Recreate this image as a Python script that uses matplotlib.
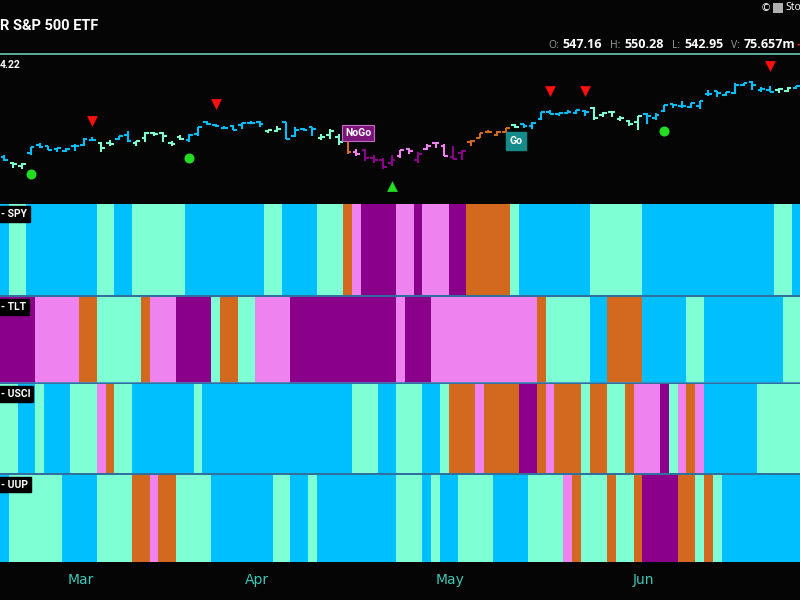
import matplotlib
matplotlib.use("Agg")
import matplotlib.pyplot as plt
import numpy as np
from matplotlib.patches import Rectangle

# trading days, index 0 = Feb 16 2024, last = Jun 27 2024
month_start = [9, 29, 51, 73]
month_labels = ["Mar", "Apr", "May", "Jun"]

spy_open = [
    501.7, 497.7, 495.4, 504.0, 509.3, 508.3, 506.7, 505.3, 508.1,
    508.9, 512.0, 510.2, 510.6, 513.1, 515.5, 510.5, 513.5, 516.7, 516.9, 510.2,
    514.0, 512.2, 515.8, 523.4, 522.1, 519.8, 521.2, 521.7, 523.2,
    523.8, 518.2, 517.7, 523.5, 514.5, 519.2, 520.5, 513.5, 515.7, 514.4, 515.1,
    504.9, 506.1, 501.0, 499.4, 497.8, 501.8, 506.6, 499.2, 506.4, 510.1, 508.6,
    501.4, 504.2, 511.2, 513.7, 517.6, 515.3, 517.4, 521.8, 522.6, 521.1, 525.8,
    529.9, 528.8, 529.6, 529.3, 530.7, 532.9, 527.9, 530.3, 525.7, 524.5, 523.6,
    529.0, 526.5, 530.8, 534.9, 533.7, 533.2, 534.1, 541.6, 543.2, 540.9, 542.1,
    547.2, 549.4, 544.4, 544.3, 543.9, 543.7, 545.4,
]
spy_high = [
    502.9, 498.4, 497.4, 508.0, 510.1, 508.7, 507.2, 506.9, 509.7,
    513.3, 514.2, 510.7, 512.1, 515.1, 518.2, 511.9, 517.4, 517.3, 517.1, 511.7,
    515.5, 516.0, 520.7, 524.1, 522.6, 520.9, 521.6, 523.2, 524.6,
    524.4, 518.9, 520.9, 523.9, 520.4, 520.2, 520.8, 516.2, 519.5, 515.8, 515.3,
    506.5, 506.2, 502.4, 500.5, 502.4, 506.1, 507.4, 504.3, 509.9, 510.8, 509.6,
    508.2, 505.9, 512.5, 516.6, 518.6, 517.7, 520.2, 522.6, 522.7, 523.8, 530.1,
    531.5, 529.5, 531.6, 531.5, 531.4, 533.1, 530.3, 530.5, 527.3, 525.2, 527.5,
    529.3, 529.2, 534.7, 535.4, 536.8, 535.9, 537.0, 544.1, 543.3, 543.0, 548.5,
    548.6, 550.1, 545.7, 546.9, 545.2, 546.2, 546.9,
]
spy_low = [
    498.8, 494.5, 493.6, 503.0, 507.1, 505.9, 504.7, 504.9, 505.4,
    508.6, 511.9, 504.9, 508.2, 512.2, 511.1, 508.5, 510.9, 514.9, 510.9, 508.1,
    512.4, 511.1, 515.1, 521.9, 520.4, 519.0, 518.4, 519.5, 522.8,
    520.6, 516.5, 517.5, 513.0, 514.0, 518.0, 514.9, 512.1, 512.6, 509.1, 503.6,
    502.2, 499.1, 497.8, 493.9, 495.4, 500.7, 503.1, 497.5, 505.7, 507.2, 501.9,
    499.9, 499.6, 508.6, 513.3, 516.4, 515.1, 516.7, 519.6, 519.7, 519.3, 525.2,
    528.5, 527.3, 529.2, 529.1, 527.6, 524.7, 527.1, 527.1, 524.1, 521.3, 518.4,
    522.6, 524.9, 529.9, 532.7, 532.5, 532.4, 532.1, 540.3, 539.6, 540.2, 541.6,
    546.7, 543.8, 543.0, 542.6, 542.4, 543.0, 544.6,
]
spy_close = [
    499.5, 496.8, 497.2, 507.5, 507.9, 506.0, 506.9, 506.3, 508.1,
    512.9, 512.3, 507.2, 509.8, 514.8, 511.7, 511.3, 516.8, 516.0, 515.0, 509.8,
    512.9, 515.7, 520.5, 522.2, 521.2, 519.8, 518.8, 523.2, 523.1,
    522.2, 518.8, 519.4, 513.1, 518.4, 518.7, 519.3, 514.1, 518.0, 510.9, 504.5,
    503.5, 500.6, 499.5, 495.2, 499.7, 505.7, 505.4, 503.5, 508.3, 510.1, 502.0,
    500.4, 505.0, 511.3, 516.6, 517.1, 517.2, 520.2, 520.8, 520.9, 523.3, 529.8,
    528.7, 529.5, 530.1, 531.4, 529.8, 526.0, 529.4, 529.8, 526.1, 522.6, 527.4,
    527.8, 528.4, 534.7, 534.7, 534.0, 535.7, 537.0, 541.4, 542.5, 542.8, 547.1,
    548.5, 547.0, 544.5, 542.7, 544.8, 545.5, 546.4,
]

# trend condition per day: B strong go, A weak go, O go fish, P weak nogo, M strong nogo
spy_trend = ("BAABBBBBB" "BBAABBAAAAAABBBBBBBB" "BAABBBBAAAOPMMMMPPMPPP"
             "MMOOOOOABBBBBBBBAAAAAA" "BBBBBBBBBBBBBBBAAB")
tlt_trend = ("MMMMPPPPP" "OOAAAAAOPPPMMMMAOOAA" "PPPPMMMMMMMMMMMMPMMMPP"
             "PPPPPPPPPPOAAAAABBOOOO" "BBBBBAABBBBBBBBBAA")
usci_trend = ("AABBABBBA" "AAPOAABBBBBBBABBBBBB" "BBBBBBBBBBBAAABBAAABBA"
              "OOOPOOOOMMOPOOOAOOAAOP" "PPMAPOPBBBBBBAAAAA")
uup_trend = ("BAAAAAABB" "BBAAAAOOPOOAAAABBBBB" "BBAABBABBBBBBBBBAAABAB"
             "BAAAABBBBAAAAPOAAAOAAO" "MMMMOOAOABBBBBBBBB")
panel_names = ["- SPY", "- TLT", "- USCI", "- UUP"]

sell_days = [10, 24, 62, 66, 87]
sell_level = [524.3, 535.2, 543.4, 543.4, 559.4]
dot_days = [3, 21, 75]
dot_level = [490.6, 500.8, 518.0]
buy_days = [44]
buy_level = [482.9]

TREND = {"B": "#00bfff", "A": "#7fffd4", "O": "#d2691e", "P": "#ee82ee", "M": "#8b008b"}
BG = "#050505"
W, H = 800, 600


def fx(px):
    return px / W


def fy(py):
    return 1 - py / H


fig = plt.figure(figsize=(8, 6), dpi=100, facecolor=BG)
n = len(spy_close)
x = np.arange(n)
xlim = (-0.5, 90.4)

# price panel
ax = fig.add_axes([0, fy(203), 1, (203 - 55) / H], facecolor=BG)
cols = [TREND[c] for c in spy_trend]
ax.vlines(x, spy_low, spy_high, colors=cols, lw=1.5)
ax.hlines(spy_open, x - 0.42, x, colors=cols, lw=1.5)
ax.hlines(spy_close, x, x + 0.42, colors=cols, lw=1.5)
ax.scatter(sell_days, sell_level, marker="v", s=60, color="#ff1010", lw=0)
ax.scatter(dot_days, dot_level, marker="o", s=52, color="#22dd22", lw=0)
ax.scatter(buy_days, buy_level, marker="^", s=60, color="#22dd22", lw=0)
ax.text(40.2, 516.7, "NoGo", ha="center", va="center", color="white", fontsize=7.5,
        weight="bold", family="Roboto",
        bbox=dict(boxstyle="square,pad=0.3", fc="#7a1478", ec="#c070c0", lw=0.8))
ax.text(58.1, 511.6, "Go", ha="center", va="center", color="white", fontsize=7.5,
        weight="bold", family="Roboto",
        bbox=dict(boxstyle="square,pad=0.35", fc="#178a8a", ec="#178a8a"))
ax.set_xlim(*xlim)
ax.set_ylim(472.1, 566.4)
ax.axis("off")

# trend panels
panels = [(204, 295), (297, 382.5), (384, 472.5), (474.5, 562)]
trends = [spy_trend, tlt_trend, usci_trend, uup_trend]
for (top, bottom), trend, name in zip(panels, trends, panel_names):
    pax = fig.add_axes([0, fy(bottom), 1, (bottom - top) / H], facecolor=BG)
    pax.bar(x, 1, width=1.0, color=[TREND[c] for c in trend], lw=0, antialiased=False)
    pax.set_xlim(*xlim)
    pax.set_ylim(0, 1)
    pax.set_yticks([])
    for s in pax.spines.values():
        s.set_visible(False)
    pax.set_xticks([])
    pax.text(1 / W, 1 - 10 / (bottom - top), name, transform=pax.transAxes,
             ha="left", va="center", color="white", fontsize=7.5, weight="bold",
             family="Roboto",
             bbox=dict(boxstyle="square,pad=0.25", fc="black", ec="black"))
    last = pax

# separators between panels
for y in [296, 383.2, 473.5]:
    fig.add_artist(plt.Line2D([0, 1], [fy(y), fy(y)], color="#3b86bd", lw=1.2))

last.set_xticks([d - 0.35 for d in month_start])
last.set_xticklabels(month_labels, color="#3cc8b8", fontsize=10)
last.tick_params(axis="x", length=0, pad=8)

# header
fig.add_artist(plt.Line2D([0, 1], [fy(54), fy(54)], color="#6cc4b2", lw=1.2))
fig.text(fx(0), fy(26), "R S&P 500 ETF", color="white", fontsize=10.5, weight="bold",
         family="Roboto", ha="left", va="center")
fig.text(fx(0), fy(65), "4.22", color="white", fontsize=7.5, weight="bold",
         family="Roboto", ha="left", va="center")
ohlc = [(548, "O:", 562, "547.16"), (610, "H:", 624, "550.28"),
        (672, "L:", 684, "542.95"), (731, "V:", 744, "75.657m")]
for lx, lab, vx, val in ohlc:
    fig.text(fx(lx), fy(45), lab, color="#9a9a9a", fontsize=7.5, family="Open Sans",
             ha="left", va="center")
    fig.text(fx(vx), fy(45), val, color="white", fontsize=9, weight="bold",
             family="Open Sans", ha="left", va="center")
fig.text(fx(796), fy(45), "-", color="#ff2020", fontsize=8, weight="bold", ha="left", va="center")
fig.text(fx(761), fy(8), "©", color="white", fontsize=7.5, ha="left", va="center")
fig.add_artist(Rectangle((fx(773), fy(13)), 10 / W, 10 / H, transform=fig.transFigure,
                         fc="#b0b0b0", ec="none"))
fig.text(fx(785), fy(8), "Sto", color="white", fontsize=7.5, family="Open Sans",
         ha="left", va="center")

fig.savefig("out.png", dpi=100, facecolor=BG)
